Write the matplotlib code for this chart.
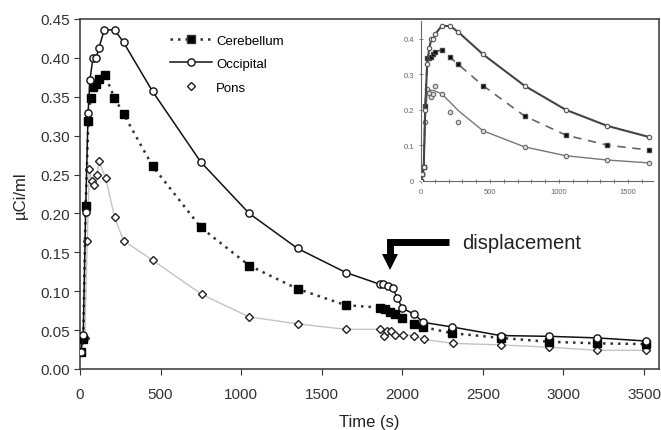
import matplotlib
matplotlib.use('Agg')
import matplotlib.pyplot as plt
from matplotlib.lines import Line2D

plt.rcParams['font.family'] = ['Liberation Sans', 'DejaVu Sans']

# Main experiment (with displacement)
occ_t = [5, 20, 35, 50, 62, 80, 100, 118, 150, 215, 270, 450, 750, 1050, 1350, 1650,
         1860, 1880, 1910, 1940, 1970, 2000, 2070, 2130, 2310, 2610, 2910, 3210, 3510]
occ_v = [0.022, 0.044, 0.202, 0.329, 0.372, 0.400, 0.400, 0.413, 0.436, 0.436, 0.420, 0.357,
         0.266, 0.200, 0.155, 0.124, 0.109, 0.109, 0.107, 0.104, 0.091, 0.078, 0.071, 0.060,
         0.054, 0.043, 0.042, 0.040, 0.036]

cer_t = [5, 20, 35, 52, 66, 83, 100, 118, 155, 213, 270, 450, 750, 1050, 1350, 1650,
         1860, 1890, 1925, 1955, 2000, 2070, 2130, 2310, 2610, 2910, 3210, 3510]
cer_v = [0.022, 0.038, 0.210, 0.319, 0.349, 0.362, 0.366, 0.373, 0.378, 0.349, 0.328, 0.261,
         0.182, 0.133, 0.103, 0.082, 0.079, 0.077, 0.073, 0.071, 0.066, 0.058, 0.054, 0.046,
         0.040, 0.035, 0.033, 0.032]

pons_t = [5, 30, 45, 58, 73, 89, 106, 118, 160, 215, 270, 450, 755, 1050, 1350, 1650,
          1860, 1885, 1905, 1930, 1955, 2005, 2070, 2135, 2315, 2610, 2910, 3210, 3510]
pons_v = [0.022, 0.040, 0.165, 0.257, 0.242, 0.236, 0.250, 0.267, 0.245, 0.195, 0.165, 0.140,
          0.096, 0.067, 0.058, 0.051, 0.051, 0.043, 0.049, 0.049, 0.044, 0.044, 0.043, 0.038,
          0.033, 0.031, 0.028, 0.024, 0.024]

# Inset (baseline experiment)
ins_t = [0, 10, 20, 30, 45, 60, 75, 90, 105, 150, 210, 270, 450, 750, 1050, 1350, 1650]
ins_occ = [0.0, 0.02, 0.04, 0.20, 0.33, 0.374, 0.40, 0.40, 0.414, 0.436, 0.436, 0.419,
           0.356, 0.268, 0.200, 0.155, 0.124]
ins_cer = [0.0, 0.02, 0.04, 0.21, 0.345, 0.345, 0.35, 0.358, 0.363, 0.369, 0.348, 0.328,
           0.268, 0.183, 0.129, 0.101, 0.087]
ins_pons = [0.0, 0.02, 0.04, 0.165, 0.259, 0.247, 0.236, 0.245, 0.268, 0.245, 0.194, 0.166,
            0.141, 0.096, 0.071, 0.059, 0.051]
# fitted pons curve in the inset
ins_pons_fit_t = [0, 10, 20, 30, 45, 60, 90, 150, 210, 270, 450, 750, 1050, 1350, 1650]
ins_pons_fit_v = [0.0, 0.02, 0.04, 0.17, 0.25, 0.255, 0.255, 0.245, 0.222, 0.198, 0.141,
                  0.096, 0.071, 0.059, 0.051]

fig = plt.figure(figsize=(6.61, 4.31), dpi=100)
ax = fig.add_axes([80 / 661, 61 / 431, 579 / 661, 350 / 431])

ax.plot(pons_t, pons_v, color='#c4c4c4', lw=1.0, marker='D', ms=4.3, mfc='white',
        mec='#222', mew=1.0, zorder=2)
ax.plot(cer_t, cer_v, color='#333', lw=1.8, ls=(0, (1, 2)), marker='s', ms=5.2,
        mfc='black', mec='black', zorder=3)
ax.plot(occ_t, occ_v, color='#111', lw=1.1, marker='o', ms=5.2, mfc='white',
        mec='#111', mew=1.0, zorder=4)

ax.set_xlim(0, 3593)
ax.set_ylim(0, 0.45)
ax.set_xticks(range(0, 3501, 500))
ax.set_yticks([i * 0.05 for i in range(10)])
ax.set_yticklabels([f'{i * 0.05:.2f}' for i in range(10)])
ax.tick_params(labelsize=11, colors='#333', length=4, width=0.8)
ax.tick_params(axis='x', pad=9)
for s in ax.spines.values():
    s.set_color('#444')
    s.set_linewidth(1.2)
ax.set_xlabel('Time (s)', fontsize=12, color='#222', labelpad=9)
ax.set_ylabel('µCi/ml', fontsize=12, color='#222', labelpad=9)

handles = [
    Line2D([], [], color='#333', lw=1.8, ls=(0, (1, 2)), marker='s', ms=5.2, mfc='black'),
    Line2D([], [], color='#111', lw=1.1, marker='o', ms=5.2, mfc='white', mec='#111'),
    Line2D([], [], ls='none', marker='D', ms=4.3, mfc='white', mec='#222'),
]
ax.legend(handles, ['Cerebellum', 'Occipital', 'Pons'], loc='upper left',
          bbox_to_anchor=(0.135, 0.99), frameon=False, fontsize=9.5, handlelength=3.2,
          labelspacing=0.85, handletextpad=0.3)

# displacement arrow: L-shaped bar plus triangular head
ax.plot([2290, 1925, 1925], [0.1633, 0.1633, 0.143], color='black', lw=5,
        solid_joinstyle='miter', solid_capstyle='butt', zorder=5)
ax.plot([1925], [0.137], marker='v', ms=11, color='black', mew=0, zorder=5)
ax.text(2372, 0.163, 'displacement', fontsize=14.5, color='#222', va='center', ha='left')

# inset
ins = fig.add_axes([421 / 661, 249 / 431, 232 / 661, 160 / 431])
ins.plot(ins_pons_fit_t, ins_pons_fit_v, color='#777', lw=1.0, zorder=2)
ins.plot(ins_t, ins_pons, ls='none', marker='o', ms=3.2, mfc='#ddd', mec='#666', mew=0.8,
         zorder=3)
ins.plot(ins_t, ins_cer, color='#666', lw=1.2, ls=(0, (5, 4)), marker='s', ms=3.2,
         mfc='black', mec='#444', zorder=3)
ins.plot(ins_t, ins_occ, color='#444', lw=1.5, marker='o', ms=3.2, mfc='#eee', mec='#555',
         mew=0.8, zorder=4)
ins.set_xlim(0, 1681)
ins.set_ylim(0, 0.45)
ins.set_xticks([0, 500, 1000, 1500])
ins.set_xticks(range(0, 1681, 100), minor=True)
ins.set_yticks([0, 0.1, 0.2, 0.3, 0.4])
ins.set_yticklabels(['0', '0.1', '0.2', '0.3', '0.4'])
ins.tick_params(labelsize=5.5, colors='#666', length=3, width=0.6, direction='inout')
ins.tick_params(which='minor', length=3, width=0.6, direction='inout', colors='#666')
ins.spines['top'].set_visible(False)
ins.spines['right'].set_visible(False)
for s in ('left', 'bottom'):
    ins.spines[s].set_color('#666')
    ins.spines[s].set_linewidth(0.8)
ins.patch.set_alpha(0)

fig.savefig('out.png', dpi=100)
